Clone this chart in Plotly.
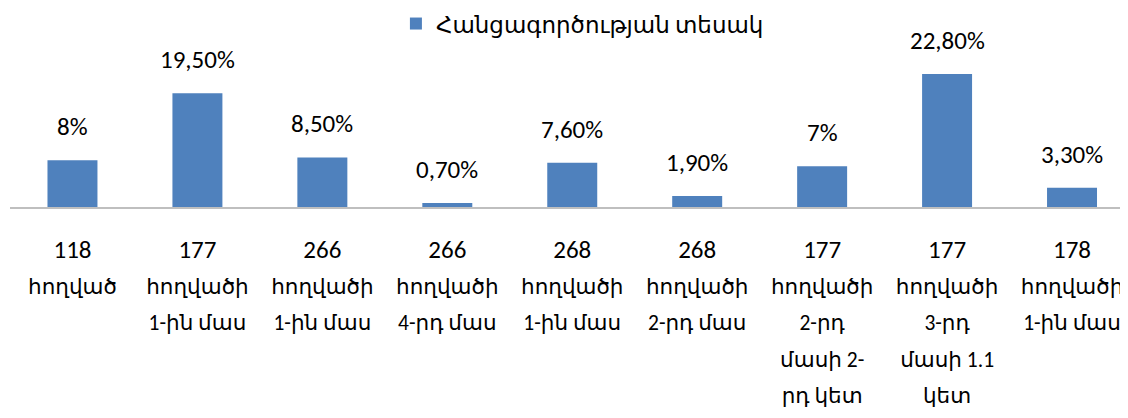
import plotly.graph_objects as go

numbers = ["118", "177", "266", "266", "268", "268", "177", "177", "178"]
text_lines = [
    ["հողված"],
    ["հողվածի", "1-ին մաս"],
    ["հողվածի", "1-ին մաս"],
    ["հողվածի", "4-րդ մաս"],
    ["հողվածի", "1-ին մաս"],
    ["հողվածի", "2-րդ մաս"],
    ["հողվածի", "2-րդ", "մասի 2-", "րդ կետ"],
    ["հողվածի", "3-րդ", "մասի 1.1", "կետ"],
    ["հողվածի", "1-ին մաս"],
]
values = [8, 19.5, 8.5, 0.7, 7.6, 1.9, 7, 22.8, 3.3]
value_labels = ["8%", "19,50%", "8,50%", "0,70%", "7,60%", "1,90%", "7%", "22,80%", "3,30%"]
series_name = "Հանցագործության տեսակ"

FONT = "Carlito, Lato, 'DejaVu Sans'"

ticktext = [
    '<span style="font-size:25px">' + n + "</span><br>"
    + "<br>".join('<span style="font-size:21.5px">' + l + "</span>" for l in ls)
    for n, ls in zip(numbers, text_lines)
]

fig = go.Figure()
fig.add_trace(go.Bar(
    x=list(range(len(values))),
    y=values,
    name=series_name,
    marker=dict(color="#4f81bd", line=dict(width=0)),
    showlegend=True,
))

for i, (v, t) in enumerate(zip(values, value_labels)):
    fig.add_annotation(
        x=i, y=v, text=t, showarrow=False,
        xanchor="center", yanchor="bottom", yshift=16,
        font=dict(family=FONT, size=25, color="#000000"),
    )

fig.update_layout(
    width=1120, height=410,
    margin=dict(l=1.5, r=0, t=59, b=211),
    paper_bgcolor="white", plot_bgcolor="white",
    bargap=0.6,
    font=dict(family=FONT, size=24, color="#000000"),
    legend=dict(
        orientation="h", x=0.512, xanchor="center", y=0.962, yanchor="middle",
        yref="container", font=dict(family=FONT, size=23, color="#000000"),
        itemsizing="constant",
    ),
    xaxis=dict(
        tickmode="array", tickvals=list(range(len(values))), ticktext=ticktext,
        range=[-0.5, 8.448], showgrid=False, zeroline=False,
        showline=True, linecolor="#bfbfbf", linewidth=2,
        ticks="", ticklabelstandoff=15, ticklabeloverflow="allow",
        tickfont=dict(family=FONT, size=28, color="#000000"),
        tickangle=0, automargin=False,
    ),
    yaxis=dict(range=[0, 24], visible=False, showgrid=False, zeroline=False),
)

fig.write_html("out.html")
